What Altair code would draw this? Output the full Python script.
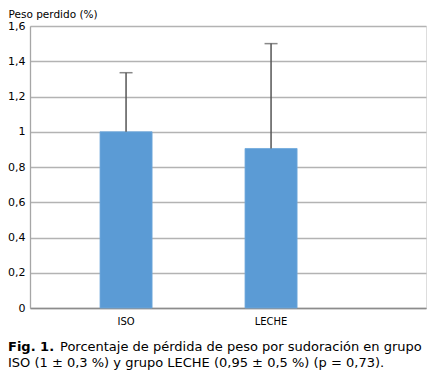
import altair as alt
import pandas as pd

groups = ["ISO", "LECHE"]
means = [1.0, 0.905]
uppers = [1.335, 1.50]
y_ticks = [0, 0.2, 0.4, 0.6, 0.8, 1.0, 1.2, 1.4, 1.6]

y_title = "Peso perdido (%)"
caption_bold = ["Fig. 1."]
caption_line1 = ["Porcentaje de pérdida de peso por sudoración en grupo"]
caption_line2 = ["ISO (1 ± 0,3 %) y grupo LECHE (0,95 ± 0,5 %) (p = 0,73)."]

df = pd.DataFrame({"grupo": groups, "media": means, "sup": uppers})

FONT = "DejaVu Sans"

xaxis = alt.Axis(labelAngle=0, ticks=False, domain=True, domainColor="#8c8c8c",
                 domainWidth=1.5, labelFont=FONT, labelFontSize=10,
                 labelColor="#000000", labelPadding=8)
xscale = alt.Scale(paddingInner=0.641, paddingOuter=0.686, align=0.352)

yaxis = alt.Axis(values=y_ticks,
                 labelExpr="replace(format(datum.value, '~g'), '.', ',')",
                 labelOverlap=False, labelFont=FONT, labelFontSize=11,
                 labelColor="#000000", labelPadding=5, tickSize=0,
                 grid=True, gridColor="#b3b3b3", gridWidth=1.3,
                 domain=True, domainColor="#a6a6a6", domainWidth=1.3,
                 titleAngle=0, titleX=-22, titleY=-8.5, titleAlign="left",
                 titleBaseline="alphabetic", titleFont=FONT,
                 titleFontSize=10.5, titleFontWeight="normal",
                 titleColor="#000000")
yscale = alt.Scale(domain=[0, 1.6], nice=False)


def xe():
    return alt.X("grupo:N", sort=groups, title=None, scale=xscale, axis=xaxis)


def ye(field):
    return alt.Y(field, scale=yscale, title=y_title, axis=yaxis)


bars = alt.Chart(df).mark_bar(color="#5b9bd5", stroke="#6fa8dc", strokeWidth=0.8).encode(
    x=xe(), y=ye("media:Q"))

err = alt.Chart(df).mark_rule(color="#555555", strokeWidth=1.5).encode(
    x=xe(), y=ye("media:Q"), y2="sup:Q")

caps = alt.Chart(df).mark_tick(color="#555555", size=13, thickness=1.5).encode(
    x=xe(), y=ye("sup:Q"))

FS = 13
cap_b = alt.Chart(pd.DataFrame({"t": caption_bold})).mark_text(
    font=FONT, fontSize=FS, fontWeight="bold", align="left", baseline="alphabetic",
    color="#000000").encode(text="t:N", x=alt.value(-22), y=alt.value(325))

cap_1 = alt.Chart(pd.DataFrame({"t": caption_line1})).mark_text(
    font=FONT, fontSize=FS, align="left", baseline="alphabetic",
    color="#000000").encode(text="t:N", x=alt.value(30), y=alt.value(325))

cap_2 = alt.Chart(pd.DataFrame({"t": caption_line2})).mark_text(
    font=FONT, fontSize=FS, align="left", baseline="alphabetic",
    color="#000000").encode(text="t:N", x=alt.value(-22), y=alt.value(341))

chart = alt.layer(bars, err, caps, cap_b, cap_1, cap_2).properties(
    width=396, height=282,
    autosize=alt.AutoSizeParams(type="none"),
    padding={"left": 22, "top": 18, "right": 1, "bottom": 70},
).configure_view(stroke=None).configure(background="#ffffff")

chart.save("out.html", embed_options={"renderer": "svg", "actions": False})
